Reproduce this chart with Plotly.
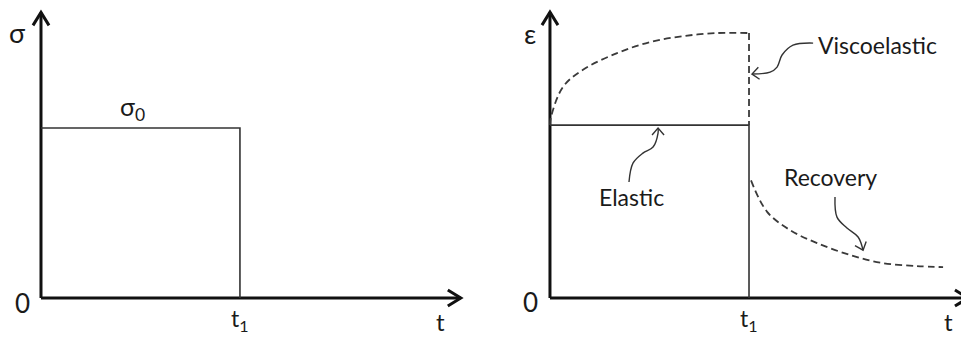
import math
import plotly.graph_objects as go

# ---- data (t in units of t1, stress in units of sigma0, strain in units of elastic strain)
step_t = [0, 1, 1]
step_sigma = [1, 1, 0]

elastic_t = [0, 1, 1]
elastic_eps = [1, 1, 0]

creep_t = [0, 0.005, 0.065, 0.166, 0.337, 0.503, 0.668, 0.839, 1.0]
creep_eps = [1.0, 1.046, 1.22, 1.32, 1.416, 1.48, 1.514, 1.532, 1.532]

unload_t = [1, 1]
unload_eps = [1.532, 1.0]

recov_t = [1.01, 1.09, 1.206, 1.342, 1.508, 1.673, 1.844, 1.975]
recov_eps = [0.68, 0.50, 0.393, 0.318, 0.249, 0.202, 0.185, 0.179]

# squiggly pointer lines for the labels
visco_ptr_t = [1.322, 1.221, 1.166, 1.141, 1.106, 1.015]
visco_ptr_e = [1.474, 1.462, 1.405, 1.335, 1.306, 1.295]
elastic_ptr_t = [0.397, 0.417, 0.467, 0.518, 0.543, 0.543]
elastic_ptr_e = [0.671, 0.780, 0.838, 0.873, 0.954, 0.983]
recov_ptr_t = [1.432, 1.442, 1.492, 1.548, 1.573]
recov_ptr_e = [0.584, 0.468, 0.405, 0.353, 0.277]

# axis extents
left_t_max, left_sigma_max = 2.11, 1.68
right_t_max, right_eps_max = 2.07, 1.653

# pixels per data unit (used only to shape the arrow heads)
SX = 199
SY_L, SY_R = 170, 173

FONT = "Lato, 'DejaVu Sans', sans-serif"


def chevron(xt, yt, ux, uy, sy, back=12, half=8):
    """open arrow head with tip at (xt, yt) pointing along (ux, uy) in pixel space"""
    n = math.hypot(ux, uy)
    ux, uy = ux / n, uy / n
    px, py = -uy, ux
    xs = [xt + (-back * ux + half * px) / SX, xt, xt + (-back * ux - half * px) / SX]
    ys = [yt + (-back * uy + half * py) / sy, yt, yt + (-back * uy - half * py) / sy]
    return xs, ys


def line(fig, x, y, xa, ya, width=1.5, color="#333", dash=None, shape="linear"):
    fig.add_trace(go.Scatter(
        x=x, y=y, mode="lines", xaxis=xa, yaxis=ya, hoverinfo="skip",
        line=dict(color=color, width=width, dash=dash, shape=shape, smoothing=1.0)))


def pointer(fig, xs, ys, xa, ya, sy):
    line(fig, xs, ys, xa, ya, width=1.4, color="#333", shape="spline")
    ux = (xs[-1] - xs[-2]) * SX
    uy = (ys[-1] - ys[-2]) * sy
    hx, hy = chevron(xs[-1], ys[-1], ux, uy, sy, back=7, half=6)
    line(fig, hx, hy, xa, ya, width=1.4, color="#333")


fig = go.Figure()

# ---- left panel: stress
line(fig, [0, 0], [0, left_sigma_max], "x", "y", width=3, color="#111")
line(fig, [0, left_t_max], [0, 0], "x", "y", width=3, color="#111")
hx, hy = chevron(0, left_sigma_max, 0, 1, SY_L, back=13, half=8)
line(fig, hx, hy, "x", "y", width=3, color="#111")
hx, hy = chevron(left_t_max, 0, 1, 0, SY_L, back=13, half=8)
line(fig, hx, hy, "x", "y", width=3, color="#111")
line(fig, step_t, step_sigma, "x", "y", width=1.6, color="#333")

# ---- right panel: strain
line(fig, [0, 0], [0, right_eps_max], "x2", "y2", width=3, color="#111")
line(fig, [0, right_t_max + 0.1], [0, 0], "x2", "y2", width=3, color="#111")
hx, hy = chevron(0, right_eps_max, 0, 1, SY_R, back=13, half=8)
line(fig, hx, hy, "x2", "y2", width=3, color="#111")
hx, hy = chevron(right_t_max + 0.03, 0, 1, 0, SY_R, back=13, half=8)
line(fig, hx, hy, "x2", "y2", width=3, color="#111")
line(fig, elastic_t, elastic_eps, "x2", "y2", width=1.6, color="#333")
line(fig, creep_t, creep_eps, "x2", "y2", width=1.8, color="#3a3a3a", dash="7px,4px", shape="spline")
line(fig, unload_t, unload_eps, "x2", "y2", width=1.8, color="#3a3a3a", dash="7px,4px")
line(fig, recov_t, recov_eps, "x2", "y2", width=1.8, color="#3a3a3a", dash="7px,4px", shape="spline")

pointer(fig, visco_ptr_t, visco_ptr_e, "x2", "y2", SY_R)
pointer(fig, elastic_ptr_t, elastic_ptr_e, "x2", "y2", SY_R)
pointer(fig, recov_ptr_t, recov_ptr_e, "x2", "y2", SY_R)

# ---- labels
labels = [
    ("x", "y", -0.116, 1.56, "σ", 27),
    ("x", "y", -0.095, -0.03, "0", 26),
    ("x", "y", 0.46, 1.12, "σ<sub>0</sub>", 25),
    ("x", "y", 1.0, -0.128, "t<sub>1</sub>", 23),
    ("x", "y", 2.01, -0.135, "t", 24),
    ("x2", "y2", -0.10, 1.53, "ε", 27),
    ("x2", "y2", -0.10, -0.02, "0", 26),
    ("x2", "y2", 1.0, -0.126, "t<sub>1</sub>", 23),
    ("x2", "y2", 2.0, -0.133, "t", 24),
    ("x2", "y2", 1.643, 1.462, "Viscoelastic", 23),
    ("x2", "y2", 0.412, 0.584, "Elastic", 23),
    ("x2", "y2", 1.407, 0.70, "Recovery", 23),
]
for xr, yr, x, y, txt, size in labels:
    fig.add_annotation(x=x, y=y, xref=xr, yref=yr, text=txt, showarrow=False,
                       borderpad=0,
                       font=dict(family=FONT, size=size, color="#1a1a1a"))

ax = dict(visible=False, fixedrange=True)
fig.update_layout(
    width=961, height=337,
    margin=dict(l=0, r=0, t=0, b=0),
    paper_bgcolor="white", plot_bgcolor="white",
    showlegend=False,
    xaxis=dict(ax, domain=[0, 0.5], range=[-0.206, 2.209]),
    yaxis=dict(ax, anchor="x", range=[-0.229, 1.753]),
    xaxis2=dict(ax, domain=[0.5, 1], range=[-0.349, 2.065]),
    yaxis2=dict(ax, anchor="x2", range=[-0.225, 1.723]),
)

# drop the browser's default page margin so the figure sits at the top-left corner
fig.write_html("out.html", config={"displayModeBar": False},
               post_script="document.body.style.margin='0';")
